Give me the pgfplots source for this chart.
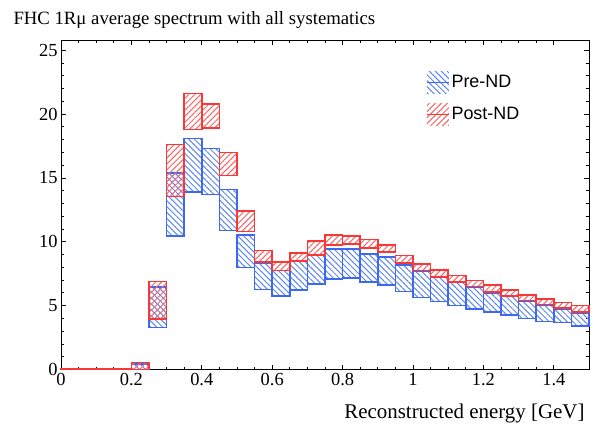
\documentclass[border=0pt]{standalone}
\usepackage{fontspec}
\setmainfont{Liberation Serif}
\newfontfamily\legfont{Liberation Sans}
\usepackage{pgfplots}
\pgfplotsset{compat=1.18}
\usepackage{pgfplotstable}
\usetikzlibrary{patterns.meta}

\definecolor{preedge}{RGB}{60,105,240}
\definecolor{prehatch}{RGB}{95,135,240}
\definecolor{postedge}{RGB}{250,55,55}
\definecolor{posthatch}{RGB}{250,100,100}

% bin centre, pre-ND band (low, high), post-ND band (low, high)
\pgfplotstableread{
x     blo    bhi    rlo    rhi
0.025 0      0.03   0      0.03
0.075 0      0.03   0      0.03
0.125 0      0.03   0      0.03
0.175 0      0.03   0      0.03
0.225 0      0.45   0      0.56
0.275 3.30   6.45   3.94   6.90
0.325 10.47  15.40  13.55  17.60
0.375 13.90  18.10  18.80  21.60
0.425 13.70  17.30  18.90  20.80
0.475 10.90  14.10  15.20  17.00
0.525 8.00   10.55  10.80  12.40
0.575 6.25   8.30   8.40   9.30
0.625 5.77   7.75   7.75   8.43
0.675 6.24   8.45   8.50   9.11
0.725 6.68   8.98   8.98   10.08
0.775 7.10   9.43   9.75   10.55
0.825 7.15   9.45   9.82   10.47
0.875 6.84   9.06   9.50   10.16
0.925 6.63   8.80   9.19   9.76
0.975 6.10   8.20   8.33   8.92
1.025 5.63   7.70   7.75   8.25
1.075 5.32   7.20   7.25   7.80
1.125 5.00   6.84   6.86   7.36
1.175 4.75   6.45   6.48   6.97
1.225 4.50   6.00   6.08   6.60
1.275 4.27   5.71   5.75   6.24
1.325 4.00   5.37   5.40   5.84
1.375 3.75   5.06   5.10   5.53
1.425 3.67   4.72   4.80   5.24
1.475 3.40   4.42   4.50   5.02
}\spectrum

\pgfplotsset{band/.style={
    scale only axis, width=528bp, height=329.5bp,
    xmin=0, xmax=1.5, ymin=0, ymax=25.8,
    ybar stacked, bar width=0.05,
    clip=false,
}}

\begin{document}
\begin{tikzpicture}
\begin{axis}[band, name=ax,
    tick align=inside,
    xtick={0,0.2,0.4,0.6,0.8,1,1.2,1.4}, minor x tick num=3,
    ytick={0,5,10,15,20,25}, minor y tick num=4,
    major tick length=5bp, minor tick length=3bp,
    tick style={black, line width=0.8bp},
    axis line style={line width=0.8bp},
    ticklabel style={font=\fontsize{18.5}{20}\selectfont},
    /pgf/number format/assume math mode=true,
    legend style={draw=none, fill=none, at={(rel axis cs:0.691,0.905)},
        anchor=north west, font=\fontsize{18}{22}\legfont,
        inner sep=0pt, row sep=10bp,
        /tikz/every even column/.append style={column sep=5bp}},
    legend cell align=left,
]
\addplot[draw=none, fill=none, forget plot] table[x=x, y=blo]{\spectrum};
\addplot[preedge, line width=1.5bp,
    pattern={Lines[angle=-45, distance=4.2bp, line width=1bp]},
    pattern color=prehatch, forget plot]
    table[x=x, y expr=\thisrow{bhi}-\thisrow{blo}]{\spectrum};
\addlegendimage{legend image code/.code={
    \path[draw=none, pattern={Lines[angle=-45, distance=4.2bp, line width=1bp]}, pattern color=prehatch]
        (0bp,-11bp) rectangle (22bp,11bp);
    \draw[preedge, line width=1.5bp] (0bp,0bp) -- (22bp,0bp);}}
\addlegendentry{Pre-ND}
\addlegendimage{legend image code/.code={
    \path[draw=none, pattern={Lines[angle=45, distance=4.2bp, line width=1bp]}, pattern color=posthatch]
        (0bp,-11bp) rectangle (22bp,11bp);
    \draw[postedge, line width=1.5bp] (0bp,0bp) -- (22bp,0bp);}}
\addlegendentry{Post-ND}
\end{axis}

\begin{axis}[band, hide axis, at={(ax.south west)}, anchor=south west]
\addplot[draw=none, fill=none, forget plot] table[x=x, y=rlo]{\spectrum};
\addplot[postedge, line width=1.5bp,
    pattern={Lines[angle=45, distance=4.2bp, line width=1bp]},
    pattern color=posthatch, forget plot]
    table[x=x, y expr=\thisrow{rhi}-\thisrow{rlo}]{\spectrum};
\end{axis}

\node[anchor=base west, font=\fontsize{18.8}{22}\selectfont]
    at ([xshift=-51bp, yshift=15bp]ax.north west) {FHC 1Rμ average spectrum with all systematics};
\node[anchor=base east, font=\fontsize{21}{24}\selectfont]
    at ([xshift=-1bp, yshift=-48.5bp]ax.south east) {Reconstructed energy [GeV]};
\path ([xshift=-61bp, yshift=-53.5bp]ax.south west) rectangle ([xshift=5bp, yshift=40bp]ax.north east);
\end{tikzpicture}
\end{document}
